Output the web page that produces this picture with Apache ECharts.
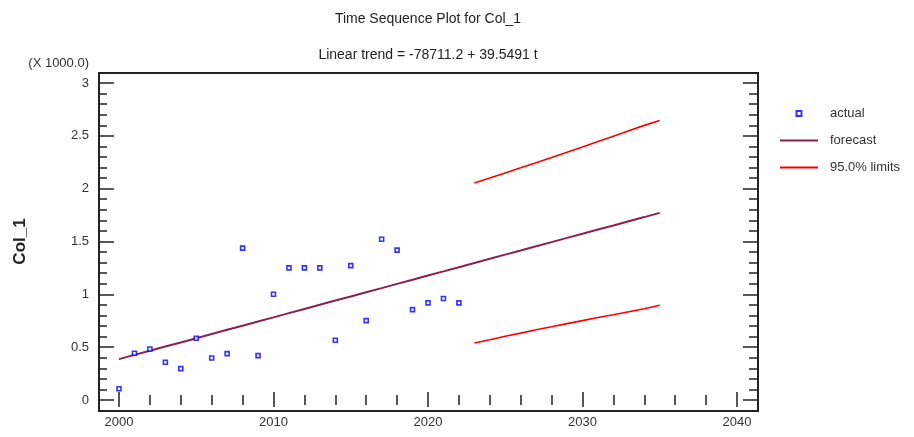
<!DOCTYPE html>
<html lang="en">
<head>
    <meta charset="UTF-8">
    <title>Time Sequence Plot for Col_1</title>
    <style>
        *{
            padding:0;
            margin:0;
        }
        html, body{
            width:100%;
            height:100%;
            background:#fff;
        }
        #main{
            width:914px;
            height:437px;
        }
    </style>
    <script src="https://cdn.jsdelivr.net/npm/echarts@6/dist/echarts.min.js"></script>
</head>
<body>
<div id="main"></div>
<script>
    // observed values
    var years = [2000, 2001, 2002, 2003, 2004, 2005, 2006, 2007, 2008, 2009, 2010, 2011,
        2012, 2013, 2014, 2015, 2016, 2017, 2018, 2019, 2020, 2021, 2022];
    var actual = [107, 442, 483, 357, 297, 584, 398, 439, 1437, 420, 1001, 1250,
        1250, 1250, 566, 1272, 751, 1522, 1418, 855, 919, 960, 919];

    // fitted trend + forecast, 2000..2035
    var forecastYears = [2000, 2001, 2002, 2003, 2004, 2005, 2006, 2007, 2008, 2009, 2010, 2011,
        2012, 2013, 2014, 2015, 2016, 2017, 2018, 2019, 2020, 2021, 2022, 2023,
        2024, 2025, 2026, 2027, 2028, 2029, 2030, 2031, 2032, 2033, 2034, 2035];
    var forecast = [387, 427, 466, 506, 545, 585, 624, 664, 703, 743, 782, 822,
        862, 901, 941, 980, 1020, 1059, 1099, 1138, 1178, 1217, 1257, 1297,
        1336, 1376, 1415, 1455, 1494, 1534, 1573, 1613, 1652, 1692, 1731, 1771];

    // 95% limits, 2023..2035
    var limitYears = [2023, 2024, 2025, 2026, 2027, 2028, 2029, 2030, 2031, 2032, 2033, 2034, 2035];
    var upper = [2054, 2101, 2149, 2197, 2246, 2295, 2345, 2395, 2446, 2497, 2548, 2599, 2646];
    var lower = [540, 571, 603, 633, 664, 693, 723, 751, 780, 807, 836, 863, 896];

    var xTicks = {min: 2000, max: 2040, interval: 10};
    var yTicks = {min: 0, max: 3000, interval: 500};

    function pairs(xs, ys) {
        var out = [];
        for (var i = 0; i < xs.length; i++) {
            out.push([xs[i], ys[i]]);
        }
        return out;
    }

    var font = 'Liberation Sans, Arial, sans-serif';
    var tickLine = {color: '#222', width: 1.5};

    // legend icons, drawn in a 38x5 box (the bare moves keep the box size)
    var squareIcon = 'path://M0 0M38 5M16.5 0L21.5 0L21.5 5L16.5 5Z';
    var lineIcon = 'path://M0 0M38 5M0 1.5L38 1.5L38 3.5L0 3.5Z';

    var myChart = echarts.init(document.getElementById('main'));

    var option = {
        backgroundColor: '#fff',
        animation: false,
        textStyle: {fontFamily: font},
        graphic: [
            {type: 'text', x: 428, y: 19, style: {text: 'Time Sequence Plot for Col_1', fill: '#222',
                font: '14px ' + font, textAlign: 'center', textVerticalAlign: 'middle'}},
            {type: 'text', x: 428, y: 55, style: {text: 'Linear trend = -78711.2 + 39.5491 t', fill: '#222',
                font: '14px ' + font, textAlign: 'center', textVerticalAlign: 'middle'}},
            {type: 'text', x: 89, y: 63, style: {text: '(X 1000.0)', fill: '#333',
                font: '13px ' + font, textAlign: 'right', textVerticalAlign: 'middle'}}
        ],
        legend: {
            orient: 'vertical',
            left: 774,
            top: 102,
            itemWidth: 38,
            itemHeight: 5,
            itemGap: 14,
            textStyle: {color: '#333', fontSize: 13, padding: [0, 0, 0, 7]},
            data: [
                {name: 'actual', icon: squareIcon},
                {name: 'forecast', icon: lineIcon},
                {name: '95.0% limits', icon: lineIcon}
            ]
        },
        grid: [
            {left: 119, right: 177, top: 83, bottom: 37},
            {left: 99, right: 156, top: 73, bottom: 26, show: true,
                borderColor: '#222', borderWidth: 2, backgroundColor: 'transparent'}
        ],
        xAxis: [
            {
                type: 'value', gridIndex: 0, position: 'bottom', offset: 11,
                min: xTicks.min, max: xTicks.max, interval: xTicks.interval,
                axisLine: {show: false},
                axisTick: {inside: true, length: 8, lineStyle: tickLine},
                minorTick: {show: true, splitNumber: 5, length: 5, lineStyle: tickLine},
                splitLine: {show: false},
                axisLabel: {color: '#333', fontSize: 13, margin: 5,
                    formatter: function (v) { return String(v); }}
            },
            {
                type: 'value', gridIndex: 0, position: 'top', offset: 10,
                min: xTicks.min, max: xTicks.max, interval: xTicks.interval,
                axisLine: {show: false},
                axisTick: {inside: true, length: 7, lineStyle: tickLine},
                minorTick: {show: true, splitNumber: 5, length: 5, lineStyle: tickLine},
                splitLine: {show: false},
                axisLabel: {show: false}
            },
            {type: 'value', gridIndex: 1, show: false}
        ],
        yAxis: [
            {
                type: 'value', gridIndex: 0, position: 'left', offset: 20,
                min: yTicks.min, max: yTicks.max, interval: yTicks.interval,
                name: 'Col_1', nameLocation: 'middle', nameRotate: 90, nameGap: 70,
                nameTextStyle: {color: '#222', fontSize: 17, fontWeight: 'bold'},
                axisLine: {show: false},
                axisTick: {inside: true, length: 15, lineStyle: tickLine},
                minorTick: {show: true, splitNumber: 5, length: 8, lineStyle: tickLine},
                splitLine: {show: false},
                axisLabel: {color: '#333', fontSize: 13, margin: 10,
                    formatter: function (v) { return String(v / 1000); }}
            },
            {
                type: 'value', gridIndex: 0, position: 'right', offset: 21,
                min: yTicks.min, max: yTicks.max, interval: yTicks.interval,
                axisLine: {show: false},
                axisTick: {inside: true, length: 15, lineStyle: tickLine},
                minorTick: {show: true, splitNumber: 5, length: 9, lineStyle: tickLine},
                splitLine: {show: false},
                axisLabel: {show: false}
            },
            {type: 'value', gridIndex: 1, show: false}
        ],
        series: [
            {
                name: 'actual',
                type: 'scatter',
                xAxisIndex: 0, yAxisIndex: 0,
                symbol: 'rect',
                symbolSize: 4,
                itemStyle: {color: '#fff', borderColor: '#0000ff', borderWidth: 1.6},
                data: pairs(years, actual),
                z: 5
            },
            {
                name: 'forecast',
                type: 'line',
                xAxisIndex: 0, yAxisIndex: 0,
                symbol: 'none',
                lineStyle: {color: '#8b2050', width: 2},
                itemStyle: {color: '#8b2050'},
                data: pairs(forecastYears, forecast)
            },
            {
                name: '95.0% limits',
                type: 'line',
                xAxisIndex: 0, yAxisIndex: 0,
                symbol: 'none',
                lineStyle: {color: '#ff0000', width: 1.6},
                itemStyle: {color: '#ff0000'},
                data: pairs(limitYears, upper)
            },
            {
                name: '95.0% limits',
                type: 'line',
                xAxisIndex: 0, yAxisIndex: 0,
                symbol: 'none',
                lineStyle: {color: '#ff0000', width: 1.6},
                itemStyle: {color: '#ff0000'},
                data: pairs(limitYears, lower)
            }
        ]
    };
    myChart.setOption(option);
</script>
</body>
</html>
